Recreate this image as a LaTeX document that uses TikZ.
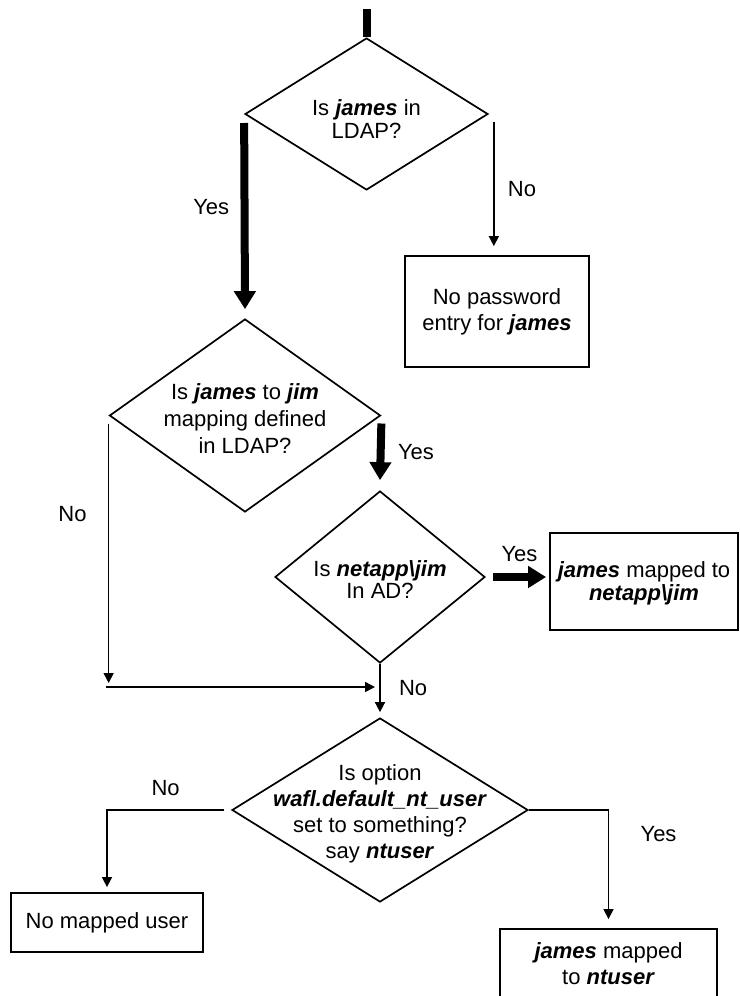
\documentclass[tikz,border=0pt]{standalone}
\usepackage{fontspec}
\setmainfont{Liberation Sans}
\usetikzlibrary{shapes.geometric,arrows.meta,calc}

\newcommand{\usr}[1]{\textbf{\textit{#1}}}
\newcommand{\qtext}[2][0pt]{\raisebox{#1}[\height][\depth]{\makebox[0pt]{\begin{tabular}{@{}c@{}}#2\end{tabular}}}}

\begin{document}
\begin{tikzpicture}[x=1pt, y=-1pt,
    every node/.style={font=\fontsize{22}{26}\selectfont},
    decision/.style={diamond, draw, line width=1.7pt, inner sep=0pt},
    outcome/.style={rectangle, draw, line width=1.8pt, align=center, inner sep=0pt},
    flow/.style={line width=1.5pt, -{Triangle[width=10pt,length=10pt]}},
    mainflow/.style={line width=8pt, -{Triangle[width=21pt,length=18pt]}}]

    % Frame
    \useasboundingbox (0,0) rectangle (739,996);

    % Decisions
    \node[decision, minimum width=243, minimum height=152] (q1) at (366.5,114) {\qtext[-8pt]{Is \usr{james} in\\[-3pt]LDAP?}};
    \node[decision, minimum width=271, minimum height=193] (q2) at (245,415.5) {\qtext[-6pt]{Is \usr{james} to \usr{jim}\\[1pt]mapping defined\\[1pt]in LDAP?}};
    \node[decision, minimum width=210, minimum height=172] (q3) at (380,577) {\qtext[-5pt]{Is \usr{netapp\textbackslash jim}\\[-4pt]In AD?}};
    \node[decision, minimum width=296, minimum height=184] (q4) at (380,810) {\qtext[-4pt]{Is option\\\usr{wafl.default\_nt\_user}\\set to something?\\say \usr{ntuser}}};

    % Outcomes
    \node[outcome, minimum width=184, minimum height=111] (nopw) at (497,311.5) {No password\\entry for \usr{james}};
    \node[outcome, minimum width=188, minimum height=97] (mapjim) at (644,581.5) {\qtext[-2pt]{\usr{james} mapped to\\[-3pt]\usr{netapp\textbackslash jim}}};
    \node[outcome, minimum width=192, minimum height=59] (nouser) at (107,922.5) {No mapped user};
    \node[outcome, minimum width=217, minimum height=70] (mapnt) at (608.5,964) {\usr{james} mapped\\to \usr{ntuser}};

    % Flow
    \coordinate (start) at (366.5,9);
    \coordinate (merge) at (380,687);
    \draw[line width=8pt] (start) -- (q1.north);
    \draw[mainflow] ([yshift=-9pt]q1.west) -- ([yshift=9pt]q2.north) node[pos=0.45, left=8pt] {Yes};
    \draw[flow] ($(q1.east)+(5,8)$) -- ($(q1.east |- nopw.north)+(5,-9)$) node[pos=0.54, right=10pt] {No};
    \draw[mainflow] ([yshift=-8pt]q2.east) -- ([yshift=10pt]q3.north) node[midway, right=10pt] {Yes};
    \draw[flow] ([yshift=-8pt]q2.west) -- ($(q2.west |- merge)+(0,-4)$) node[pos=0.35, left=18pt] {No};
    \draw[flow] ($(q2.west |- merge)+(-3,0)$) -- ($(merge)+(-5,0)$);
    \draw[flow] (q3.south) -- ($(q4.north)+(0,-5)$) node[midway, right=15pt] {No};
    \draw[mainflow] ($(q3.east)+(7,0)$) -- ($(q3.east -| mapjim.west)+(-3,0)$) node[midway, above=8pt] {Yes};
    \draw[flow] ($(q4.west)+(-7,0)$) -| ($(nouser.north)+(0,-5)$) node[pos=0.25, above=10pt] {No};
    \draw[flow] (q4.east) -| ($(mapnt.north)+(0,-9)$) node[pos=0.61, right=28pt] {Yes};
\end{tikzpicture}
\end{document}
